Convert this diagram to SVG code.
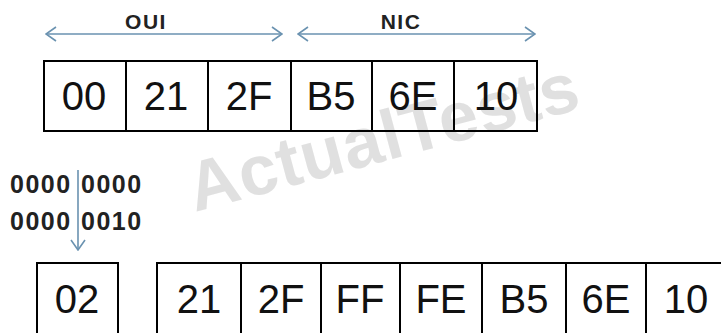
<svg xmlns="http://www.w3.org/2000/svg" width="721" height="333" viewBox="0 0 721 333">
<style>
.cell{fill:none;stroke:#000;stroke-width:2}
.big{font-family:"Liberation Sans",Arial,sans-serif;font-size:40px;fill:#111;text-anchor:middle}
.lbl{font-family:"Liberation Sans",Arial,sans-serif;font-size:21px;font-weight:bold;fill:#222;text-anchor:middle;letter-spacing:1.5px}
.bin{font-family:"Liberation Sans",Arial,sans-serif;font-size:25px;font-weight:bold;fill:#222;letter-spacing:1.5px}
.arr{stroke:#6a92b0;stroke-width:1.6;fill:none}
.wm{font-family:"Liberation Sans",Arial,sans-serif;font-size:70px;font-weight:bold;fill:#c8c8c8;opacity:0.55;letter-spacing:1px}
</style>
<defs>
<marker id="ah" viewBox="0 0 12 16" refX="11" refY="8" markerWidth="12" markerHeight="16" markerUnits="userSpaceOnUse" orient="auto-start-reverse">
<path d="M1,1 L11,8 L1,15" fill="none" stroke="#6a92b0" stroke-width="1.6"/>
</marker>
</defs>
<text class="wm" x="195" y="212" transform="rotate(-15 195 212)">ActualTests</text>
<g id="connectors">
<line class="arr" x1="46" y1="34" x2="282" y2="34" marker-start="url(#ah)" marker-end="url(#ah)"/>
<line class="arr" x1="298" y1="34" x2="535" y2="34" marker-start="url(#ah)" marker-end="url(#ah)"/>
<line class="arr" x1="78" y1="170" x2="78" y2="250" marker-end="url(#ah)"/>
</g>
<g id="label-oui"><text class="lbl" x="146" y="29">OUI</text></g>
<g id="label-nic"><text class="lbl" x="401" y="29">NIC</text></g>
<g id="top-row">
<g id="t1"><rect class="cell" x="44" y="61" width="82" height="70"/><text class="big" x="84" y="110">00</text></g>
<g id="t2"><rect class="cell" x="126" y="61" width="82" height="70"/><text class="big" x="166" y="110">21</text></g>
<g id="t3"><rect class="cell" x="208" y="61" width="83" height="70"/><text class="big" x="249" y="110">2F</text></g>
<g id="t4"><rect class="cell" x="291" y="61" width="81" height="70"/><text class="big" x="331" y="110">B5</text></g>
<g id="t5"><rect class="cell" x="372" y="61" width="82" height="70"/><text class="big" x="413" y="110">6E</text></g>
<g id="t6"><rect class="cell" x="454" y="61" width="83" height="70"/><text class="big" x="496" y="110">10</text></g>
</g>
<g id="binary">
<text class="bin" x="10" y="193">0000</text><text class="bin" x="81" y="193">0000</text>
<text class="bin" x="10" y="230">0000</text><text class="bin" x="81" y="230">0010</text>
</g>
<g id="bottom-row">
<g id="b0"><rect class="cell" x="37" y="263" width="81" height="80"/><text class="big" x="77" y="313">02</text></g>
<g id="b1"><rect class="cell" x="157" y="263" width="84" height="80"/><text class="big" x="199" y="313">21</text></g>
<g id="b2"><rect class="cell" x="241" y="263" width="80" height="80"/><text class="big" x="281" y="313">2F</text></g>
<g id="b3"><rect class="cell" x="321" y="263" width="79" height="80"/><text class="big" x="360" y="313">FF</text></g>
<g id="b4"><rect class="cell" x="400" y="263" width="82" height="80"/><text class="big" x="441" y="313">FE</text></g>
<g id="b5"><rect class="cell" x="482" y="263" width="84" height="80"/><text class="big" x="524" y="313">B5</text></g>
<g id="b6"><rect class="cell" x="566" y="263" width="80" height="80"/><text class="big" x="606" y="313">6E</text></g>
<g id="b7"><rect class="cell" x="646" y="263" width="82" height="80"/><text class="big" x="686" y="313">10</text></g>
</g>
</svg>
